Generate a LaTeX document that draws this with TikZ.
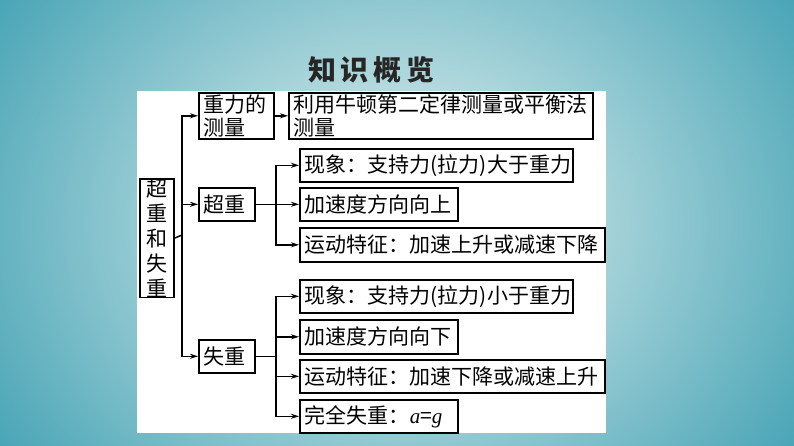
\documentclass[tikz,border=0pt]{standalone}
\usepackage{fontspec}
\setmainfont{Liberation Serif}
\newfontfamily\cjk{Noto Sans CJK SC}
\usetikzlibrary{arrows.meta}
\definecolor{bgout}{HTML}{3E9FB2}
\definecolor{bgin}{HTML}{EAF5F3}
\tikzset{
 bx/.style={draw=black,line width=1.6pt,fill=white,anchor=north west,inner sep=0pt,
   font=\cjk\fontsize{21}{23}\selectfont,align=left},
 ln/.style={line width=1.5pt},
 ar/.style={line width=1.5pt,-{Stealth[length=8pt,width=5pt]}}
}
\newcommand{\mybox}[6]{\node[bx,minimum width=#4-#2,minimum height=#5-#3,text width=#4-#2-6] (#1) at (#2,#3) {\hspace*{2pt}#6};}
\begin{document}
\begin{tikzpicture}[x=1pt,y=-1pt]
\useasboundingbox (0,0) rectangle (794,446);
\shade[inner color=bgin,outer color=bgout] (-120,-200) rectangle (914,646);
\fill[white] (137,91) rectangle (606,433);
\node[font=\cjk\bfseries\fontsize{28}{30}\selectfont,text=black!85] (title) at (371,70) {知\,识\,概\,览};
\node[draw,line width=1.6pt,fill=white,anchor=north west,minimum width=34pt,minimum height=115pt,inner sep=0pt,align=center,font=\cjk\fontsize{21}{25}\selectfont] (root) at (139,178) {超\\重\\和\\失\\重};
\mybox{gm}{198}{92}{273}{138}{重力的\\\hspace*{2pt}测量}
\mybox{gl}{288}{92}{592}{138}{利用牛顿第二定律测量或平衡法\\\hspace*{2pt}测量}
\mybox{cz}{198}{187}{254}{220}{超重}
\mybox{a1}{299}{148}{572}{181}{现象：支持力(拉力)大于重力}
\mybox{a2}{299}{187}{457}{220}{加速度方向向上}
\mybox{a3}{299}{227}{604}{261}{运动特征：加速上升或减速下降}
\mybox{sz}{198}{339}{254}{372}{失重}
\mybox{b1}{299}{279}{572}{312}{现象：支持力(拉力)小于重力}
\mybox{b2}{299}{319}{457}{353}{加速度方向向下}
\mybox{b3}{299}{359}{604}{392}{运动特征：加速下降或减速上升}
\mybox{b4}{299}{399}{457}{432}{完全失重：{\rmfamily\itshape a}={\rmfamily\itshape g}}
\coordinate (m) at (182,235);
\draw[ln] (root.east) -- (m);
\draw[ar] (m) |- (gm.west);
\draw[ar] (m) |- (cz.west);
\draw[ar] (m) |- (sz.west);
\draw[ar] (gm.east) -- (gl.west);
\coordinate (c) at (276,0);
\draw[ln] (cz.east) -- (cz.east -| c);
\draw[ar] (cz.east -| c) |- (a1.west);
\draw[ar] (cz.east -| c) -- (a2.west);
\draw[ar] (cz.east -| c) |- (a3.west);
\draw[ln] (sz.east) -- (sz.east -| c);
\foreach \t in {b1,b2,b3,b4} \draw[ar] (sz.east -| c) |- (\t.west);
\end{tikzpicture}
\end{document}
